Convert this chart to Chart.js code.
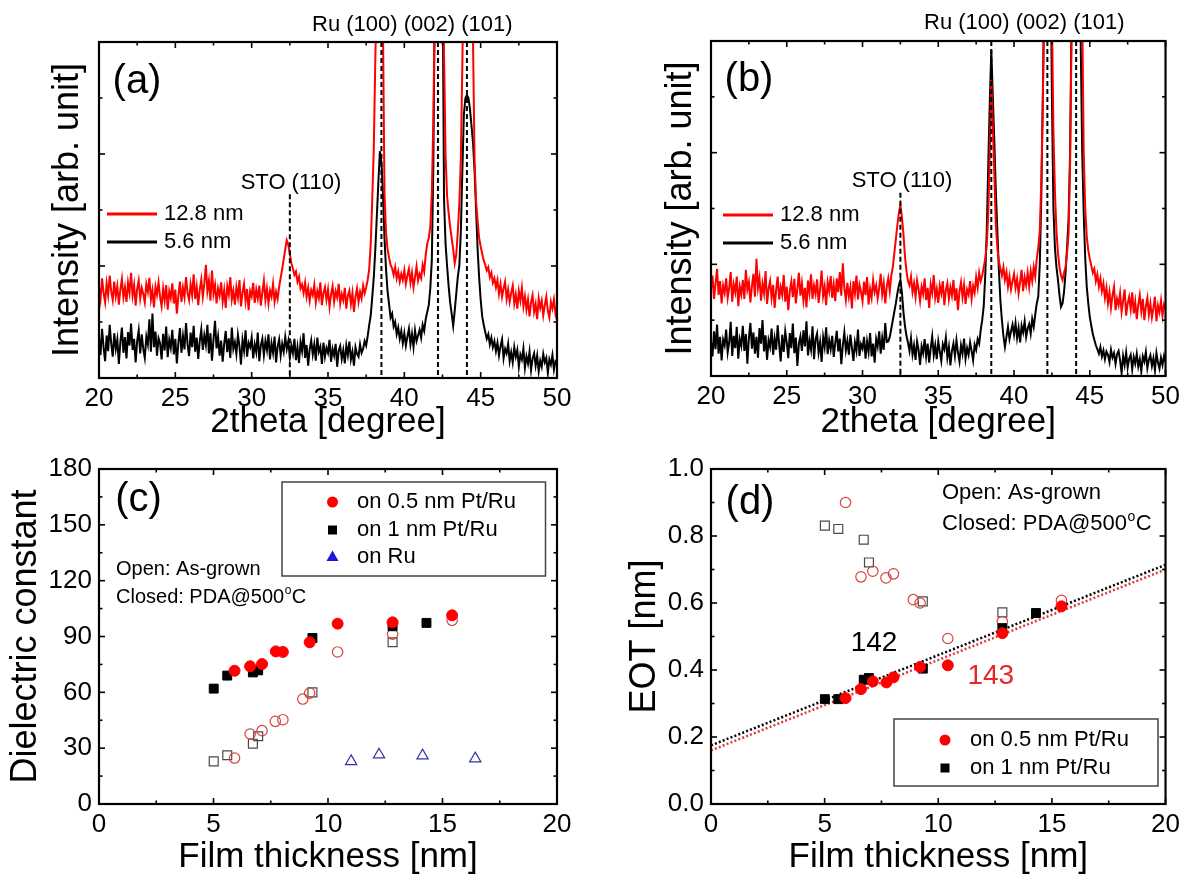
<!DOCTYPE html>
<html><head><meta charset="utf-8">
<script src="https://cdn.jsdelivr.net/npm/chart.js@4.4.1/dist/chart.umd.min.js"></script>
<style>
html,body{margin:0;padding:0;background:#fff;}
#wrap{position:relative;width:1185px;height:875px;overflow:hidden;background:#fff;}
canvas{position:absolute;}
</style></head><body>
<div id="wrap">
<canvas id="ca" width="592" height="440" style="left:0px;top:0px;width:592px;height:440px"></canvas>
<canvas id="cb" width="593" height="440" style="left:592px;top:0px;width:593px;height:440px"></canvas>
<canvas id="cc" width="592" height="435" style="left:0px;top:440px;width:592px;height:435px"></canvas>
<canvas id="cd" width="593" height="435" style="left:592px;top:440px;width:593px;height:435px"></canvas>
</div>
<script>
// ---------------- DATA ----------------
// XRD scans: intensity (arb. unit) on a 0.1 degree 2theta grid from 20 to 50
const angleStart = 20, angleStep = 0.1;
const xrdA_128 = [
1.62,1.41,1.78,1.52,1.35,1.69,1.48,1.83,1.55,1.39,
1.72,1.46,1.64,1.31,1.58,1.77,1.44,1.62,1.36,1.70,
1.52,1.88,1.47,1.66,1.29,1.59,1.74,1.42,1.61,1.50,
1.35,1.68,1.54,1.79,1.40,1.57,1.26,1.63,1.49,1.71,
1.45,1.28,1.60,1.38,1.66,1.22,1.55,1.43,1.69,1.33,
1.58,1.15,1.47,1.72,1.36,1.61,1.44,1.80,1.52,1.39,
1.67,1.48,1.85,1.41,1.63,1.30,1.58,1.76,1.45,1.69,
2.02,1.55,1.74,1.38,1.92,1.50,1.66,1.33,1.60,1.47,
1.71,1.36,1.57,1.25,1.64,1.49,1.80,1.40,1.56,1.31,
1.62,1.44,1.75,1.28,1.53,1.68,1.37,1.59,1.21,1.55,
1.46,1.70,1.34,1.58,1.42,1.65,1.29,1.53,1.74,1.39,
1.60,1.33,1.56,1.45,1.68,1.36,1.54,1.41,1.63,1.79,
1.95,2.12,2.30,2.46,2.38,2.22,2.05,1.96,1.84,1.90,
1.72,1.81,1.60,1.67,1.52,1.70,1.45,1.61,1.38,1.57,
1.48,1.66,1.35,1.55,1.43,1.71,1.30,1.52,1.62,1.40,
1.58,1.27,1.49,1.64,1.36,1.55,1.44,1.68,1.33,1.50,
1.39,1.61,1.24,1.47,1.56,1.32,1.52,1.18,1.45,1.60,
1.36,1.54,1.42,1.65,1.51,1.62,1.75,1.95,2.40,3.20,
4.10,5.70,7.00,8.00,8.00,7.50,6.30,3.30,2.60,2.30,
2.15,2.02,1.96,1.84,1.98,1.78,1.90,1.72,1.86,1.75,
1.92,1.68,1.83,1.95,1.70,1.88,1.62,1.80,1.99,1.74,
1.86,1.78,2.02,1.90,2.20,2.40,2.50,2.70,3.30,4.60,
6.80,8.00,8.00,8.00,8.00,8.00,5.80,4.00,3.25,2.95,
2.70,2.50,2.30,2.05,2.20,2.60,3.10,3.90,5.60,7.50,
8.00,8.00,8.00,8.00,8.00,6.00,3.90,3.15,2.80,2.50,
2.35,2.22,2.10,2.02,1.92,1.98,1.80,1.88,1.70,1.78,
1.62,1.75,1.50,1.68,1.45,1.60,1.72,1.41,1.58,1.36,
1.52,1.65,1.33,1.49,1.24,1.55,1.38,1.61,1.28,1.46,
1.22,1.40,1.10,1.35,1.48,1.18,1.32,1.05,1.42,1.25,
1.38,1.12,1.30,1.45,1.20,1.08,1.36,1.24,1.40,1.15,
1.28];
const xrdA_56 = [
0.72,0.41,0.88,0.55,0.30,0.76,0.48,0.95,0.62,0.38,
0.80,0.52,0.69,0.25,0.64,0.90,0.45,0.73,0.35,0.82,
0.58,0.97,0.50,0.70,0.28,0.66,0.85,0.44,0.78,0.52,
0.36,0.74,0.60,1.05,0.47,1.15,0.55,0.83,0.40,0.71,
0.62,0.33,0.79,0.49,0.92,0.37,0.68,0.54,0.86,0.42,
0.70,0.26,0.63,0.89,0.45,0.75,0.51,0.98,0.60,0.39,
0.81,0.55,0.93,0.47,0.72,0.34,0.66,0.87,0.50,0.76,
0.59,0.95,0.44,0.80,0.31,0.69,1.02,0.53,0.74,0.40,
0.67,0.29,0.61,0.84,0.46,0.71,0.36,0.90,0.52,0.64,
0.43,0.77,0.57,0.24,0.68,0.49,0.85,0.38,0.63,0.55,
0.72,0.35,0.60,0.46,0.81,0.30,0.58,0.70,0.41,0.66,
0.50,0.78,0.33,0.62,0.45,0.74,0.28,0.56,0.69,0.40,
0.61,0.47,0.73,0.52,0.66,0.37,0.58,0.44,0.70,0.32,
0.55,0.27,0.64,0.48,0.80,0.36,0.59,0.22,0.51,0.67,
0.42,0.60,0.31,0.72,0.47,0.56,0.25,0.63,0.38,0.54,
0.45,0.68,0.29,0.52,0.40,0.61,0.20,0.49,0.57,0.34,
0.50,0.26,0.58,0.41,0.65,0.33,0.47,0.22,0.55,0.43,
0.38,0.60,0.45,0.52,0.66,0.58,0.75,0.95,1.12,1.45,
1.80,2.30,2.90,3.50,4.05,3.85,3.30,2.50,1.95,1.55,
1.32,1.08,1.15,0.92,1.00,0.78,0.90,0.70,0.84,0.62,
0.80,0.58,0.74,0.88,0.60,0.79,0.55,0.85,0.66,0.76,
0.86,0.72,0.95,0.84,1.05,1.18,1.30,1.60,2.10,3.80,
7.00,8.00,8.00,8.00,8.00,7.50,3.20,2.40,2.00,1.65,
1.35,1.15,0.93,1.20,1.50,1.80,2.00,2.60,3.70,4.70,
5.00,5.05,5.00,4.80,4.50,4.20,3.70,3.00,2.30,1.80,
1.40,1.10,0.95,0.82,0.70,0.78,0.60,0.72,0.55,0.66,
0.48,0.63,0.40,0.57,0.69,0.35,0.52,0.44,0.61,0.30,
0.46,0.28,0.55,0.38,0.50,0.20,0.42,0.33,0.53,0.18,
0.39,0.26,0.47,0.14,0.35,0.44,0.22,0.40,0.12,0.31,
0.20,0.43,0.28,0.36,0.09,0.33,0.24,0.41,0.15,0.30,
0.27];
const xrdB_128 = [
1.55,1.80,1.38,1.66,1.92,1.45,1.70,1.30,1.62,1.49,
1.75,1.40,1.58,1.86,1.33,1.64,1.50,1.78,1.25,1.60,
1.46,1.72,1.38,1.90,1.55,1.68,1.32,1.61,1.83,1.42,
2.10,1.58,1.76,1.35,1.65,1.48,1.88,1.29,1.57,1.70,
1.40,1.63,1.22,1.54,1.78,1.37,1.59,1.45,1.81,1.33,
1.60,1.18,1.52,1.69,1.41,1.74,1.30,1.56,1.85,1.44,
1.66,1.35,1.58,1.23,1.71,1.49,1.82,1.38,1.62,1.47,
1.73,1.31,1.55,1.89,1.43,1.60,1.27,1.68,1.52,1.79,
1.40,1.64,1.34,1.75,1.50,1.86,1.44,2.02,1.58,1.36,
1.67,1.42,1.59,1.21,1.70,1.48,1.80,1.37,1.63,1.51,
1.34,1.69,1.45,1.77,1.28,1.56,1.40,1.72,1.50,1.62,
1.39,1.58,1.83,1.46,1.66,1.30,1.60,1.75,1.52,1.80,
1.95,2.20,2.45,2.70,2.92,3.06,2.85,2.55,2.15,1.88,
1.70,1.62,1.78,1.50,1.66,1.42,1.71,1.55,1.34,1.60,
1.47,1.75,1.36,1.58,1.22,1.64,1.49,1.81,1.40,1.56,
1.31,1.62,1.48,1.70,1.27,1.54,1.66,1.38,1.59,1.44,
1.72,1.35,1.57,1.18,1.52,1.68,1.41,1.63,1.29,1.55,
1.46,1.70,1.38,1.61,1.49,1.77,1.58,1.85,1.70,1.80,
1.95,2.10,2.35,2.90,4.00,5.30,4.50,3.60,2.70,2.30,
2.05,1.92,1.80,1.95,1.72,1.86,1.60,1.78,1.55,1.70,
1.83,1.58,1.74,1.48,1.69,1.90,1.52,1.77,1.63,1.85,
1.60,1.88,1.70,1.95,1.78,2.10,2.30,2.60,3.50,4.90,
6.80,8.00,8.00,8.00,8.00,6.50,4.40,3.30,2.60,2.20,
1.95,1.80,1.72,1.85,1.95,2.20,2.55,3.80,6.20,8.00,
8.00,8.00,8.00,8.00,8.00,6.50,4.00,3.00,2.50,2.25,
2.10,1.98,1.85,1.92,1.70,1.82,1.60,1.75,1.52,1.66,
1.40,1.58,1.30,1.50,1.22,1.45,1.60,1.18,1.38,1.27,
1.48,1.15,1.35,1.55,1.08,1.30,1.42,1.20,1.50,1.12,
1.33,1.02,1.28,1.45,1.16,1.38,1.00,1.25,1.40,1.10,
1.30,1.05,1.22,1.42,0.98,1.26,1.14,1.35,1.08,1.28,
1.20];
const xrdB_56 = [
0.62,0.35,0.80,0.48,0.92,0.40,0.70,0.28,0.65,0.55,
0.83,0.42,0.60,0.97,0.36,0.72,0.50,0.88,0.31,0.66,
0.54,0.90,0.45,0.75,0.22,0.68,0.95,0.49,0.78,0.40,
0.70,0.33,0.86,0.58,1.00,0.44,0.73,0.29,0.64,0.52,
0.85,0.38,0.67,0.47,0.91,0.56,0.26,0.74,0.43,0.80,
0.60,0.32,0.77,0.50,0.94,0.41,0.69,0.18,0.58,0.71,
0.45,0.82,0.53,0.98,0.37,0.63,0.47,0.89,0.30,0.66,
0.76,0.42,0.61,0.25,0.70,0.52,0.87,0.39,0.64,0.48,
0.72,0.34,0.59,0.81,0.44,0.67,0.21,0.55,0.78,0.46,
0.63,0.38,0.74,0.51,0.27,0.60,0.45,0.83,0.36,0.57,
0.49,0.70,0.31,0.62,0.43,0.77,0.35,0.58,0.24,0.66,
0.53,0.80,0.40,0.68,0.47,0.95,0.61,0.62,0.70,0.85,
1.00,1.15,1.30,1.48,1.62,1.72,1.50,1.15,0.90,0.72,
0.60,0.45,0.68,0.38,0.55,0.29,0.62,0.47,0.20,0.53,
0.41,0.66,0.35,0.58,0.24,0.50,0.71,0.37,0.55,0.30,
0.62,0.44,0.27,0.57,0.48,0.69,0.33,0.52,0.19,0.45,
0.58,0.36,0.64,0.42,0.26,0.55,0.40,0.67,0.31,0.50,
0.38,0.60,0.45,0.28,0.56,0.47,0.66,0.58,0.82,1.00,
1.25,1.80,2.60,3.80,4.90,5.84,5.00,4.20,3.30,2.60,
1.90,1.35,1.00,0.72,0.52,0.70,0.88,0.66,0.80,0.92,
0.74,0.95,0.68,0.86,0.60,0.90,0.78,0.98,0.70,0.85,
0.93,0.76,1.02,0.88,1.10,1.30,1.42,2.00,3.20,5.00,
7.00,8.00,8.00,8.00,8.00,5.00,3.00,2.30,1.95,1.72,
1.45,1.24,1.30,1.50,1.85,2.30,2.80,4.00,6.50,8.00,
8.00,8.00,8.00,8.00,6.00,4.00,2.90,2.10,1.60,1.30,
1.06,0.90,0.75,0.65,0.55,0.48,0.40,0.52,0.35,0.46,
0.30,0.44,0.38,0.25,0.47,0.33,0.41,0.22,0.39,0.45,
0.28,0.05,0.36,0.20,0.42,0.15,0.31,0.38,0.12,0.34,
0.22,0.40,0.17,0.30,0.08,0.35,0.26,0.43,0.14,0.29,
0.37,0.18,0.32,0.10,0.41,0.24,0.13,0.33,0.20,0.36,
0.25];
const xrdLegend = ['12.8 nm', '5.6 nm'];
const stoPeak = 32.5, stoLineTop = 3.28;
const ruPeaks = [38.5, 42.2, 44.1];

// (c) dielectric constant vs film thickness
const thk05Closed = [5.92, 6.6, 7.12, 7.72, 8.03, 9.2, 10.42, 12.82, 15.42];
const k05Closed   = [71.6, 74.0, 75.2, 82.0, 81.7, 86.9, 96.9, 97.6, 101.4];
const thk1Closed  = [5.01, 5.6, 6.72, 6.95, 9.32, 12.82, 14.3];
const k1Closed    = [62.0, 69.0, 70.7, 71.8, 89.2, 95.5, 97.3];
const thk05Open   = [5.92, 6.6, 7.12, 7.7, 8.03, 8.9, 9.2, 10.42, 12.82, 15.42];
const k05Open     = [24.7, 37.6, 39.4, 44.4, 45.3, 56.4, 59.6, 81.7, 91.3, 98.7];
const thk1Open    = [5.01, 5.6, 6.72, 6.95, 9.32, 12.82];
const k1Open      = [22.9, 26.2, 32.4, 36.4, 60.0, 86.9];
const thkRu       = [11.01, 12.23, 14.13, 16.43];
const kRu         = [22.9, 26.5, 26.0, 24.4];

// (d) EOT vs film thickness
const eot05Closed = [0.316, 0.343, 0.366, 0.363, 0.378, 0.409, 0.414, 0.510, 0.590];
const eot1Closed  = [0.313, 0.313, 0.371, 0.376, 0.404, 0.525, 0.570];
const eot05Open   = [0.900, 0.678, 0.695, 0.675, 0.687, 0.610, 0.600, 0.494, 0.545, 0.608];
const eot1Open    = [0.831, 0.821, 0.789, 0.721, 0.605, 0.572];
const fitThk      = [0, 20];
const fit1nm      = [0.175, 0.714];
const fit05nm     = [0.160, 0.700];
const fitLabels   = ['142', '143'];

const kTickLabels   = ['0', '30', '60', '90', '120', '150', '180'];
const eotTickLabels = ['0.0', '0.2', '0.4', '0.6', '0.8', '1.0'];
const thkTickLabels = ['0', '5', '10', '15', '20'];
const angTickLabels = ['20', '25', '30', '35', '40', '45', '50'];
const seriesNames   = ['on 0.5 nm Pt/Ru', 'on 1 nm Pt/Ru', 'on Ru'];

// ---------------- HELPERS ----------------
const FONT = '"Liberation Sans", Arial, Helvetica, sans-serif';
Chart.defaults.font.family = FONT;
Chart.defaults.color = '#000';
const RED = '#ff0000', OPENRED = '#d8423c', OPENGRAY = '#4a4a4a', BLUE = '#3333a8';

function xrdPoints(arr) { return arr.map((v, i) => ({ x: +(angleStart + i * angleStep).toFixed(1), y: v })); }
function pairs(xs, ys) { return xs.map((x, i) => ({ x: x, y: ys[i] })); }

function drawFrame(chart) {
  const { ctx, chartArea: a } = chart;
  const xs = chart.scales.x, ys = chart.scales.y;
  const seg = (x1, y1, x2, y2) => { ctx.beginPath(); ctx.moveTo(x1, y1); ctx.lineTo(x2, y2); ctx.stroke(); };
  const vals = s => s.ticks.map(t => t.value);
  const mids = v => { const m = []; for (let i = 0; i < v.length - 1; i++) m.push((v[i] + v[i + 1]) / 2); return m; };
  ctx.save();
  ctx.strokeStyle = '#000';
  ctx.lineWidth = 1.6;
  const xv = vals(xs), yv = vals(ys);
  xv.forEach(v => { const p = xs.getPixelForValue(v); seg(p, a.bottom, p, a.bottom - 6); seg(p, a.top, p, a.top + 6); });
  mids(xv).forEach(v => { const p = xs.getPixelForValue(v); seg(p, a.bottom, p, a.bottom - 3.5); seg(p, a.top, p, a.top + 3.5); });
  yv.forEach(v => { const p = ys.getPixelForValue(v); seg(a.left, p, a.left + 6, p); seg(a.right, p, a.right - 6, p); });
  mids(yv).forEach(v => { const p = ys.getPixelForValue(v); seg(a.left, p, a.left + 3.5, p); seg(a.right, p, a.right - 3.5, p); });
  ctx.lineWidth = 2.2;
  ctx.strokeRect(a.left, a.top, a.right - a.left, a.bottom - a.top);
  ctx.restore();
}
function text(ctx, s, x, y, size, color, align) {
  ctx.font = size + 'px ' + FONT;
  ctx.fillStyle = color || '#000';
  ctx.textAlign = align || 'left';
  ctx.textBaseline = 'middle';
  ctx.fillText(s, x, y);
}
function closedText(ctx, x, y, size) {
  text(ctx, 'Closed: PDA@500', x, y, size);
  const w = ctx.measureText('Closed: PDA@500').width;
  text(ctx, 'o', x + w + 0.5, y - size * 0.33, Math.round(size * 0.62));
  const w2 = ctx.measureText('o').width;
  text(ctx, 'C', x + w + w2 + 1, y, size);
}
function marker(ctx, kind, x, y) {
  ctx.save();
  if (kind === 'circle') { ctx.fillStyle = RED; ctx.beginPath(); ctx.arc(x, y, 5.5, 0, Math.PI * 2); ctx.fill(); }
  else if (kind === 'square') { ctx.fillStyle = '#000'; ctx.fillRect(x - 4.5, y - 4.5, 9, 9); }
  else { ctx.fillStyle = '#1818d8'; ctx.beginPath(); ctx.moveTo(x, y - 6.5); ctx.lineTo(x + 6, y + 4); ctx.lineTo(x - 6, y + 4); ctx.closePath(); ctx.fill(); }
  ctx.restore();
}

function axisX(min, max, step, labels, titleText, h, tpad) {
  return {
    type: 'linear', min: min, max: max,
    ticks: { stepSize: step, autoSkip: false, maxRotation: 0, padding: 5, font: { size: 26 }, color: '#000',
             callback: (v, i) => labels[i] },
    grid: { display: false, drawTicks: false }, border: { display: false },
    title: { display: true, text: titleText, color: '#000', font: { size: 35, lineHeight: 1 }, padding: { top: 0, bottom: tpad } },
    afterFit: s => { s.height = h; }
  };
}
function axisY(min, max, step, labels, titleText, w, tpad) {
  return {
    type: 'linear', min: min, max: max,
    ticks: { stepSize: step, display: !!labels, padding: 7, font: { size: 26 }, color: '#000',
             callback: (v, i) => labels ? labels[i] : '' },
    grid: { display: false, drawTicks: false }, border: { display: false },
    title: { display: true, text: titleText, color: '#000', font: { size: 36, lineHeight: 1 }, padding: { top: tpad, bottom: 0 } },
    afterFit: s => { s.width = w; }
  };
}
const baseOpts = { responsive: false, animation: false, devicePixelRatio: 1,
  plugins: { legend: { display: false }, tooltip: { enabled: false } } };

// ---------------- XRD PANELS ----------------
function xrdChart(id, red, black, geo) {
  new Chart(document.getElementById(id), {
    type: 'line',
    data: { datasets: [
      { data: xrdPoints(red), borderColor: RED, borderWidth: 2, pointRadius: 0, tension: 0, clip: 0 },
      { data: xrdPoints(black), borderColor: '#000', borderWidth: 2, pointRadius: 0, tension: 0, clip: 0 }
    ] },
    options: Object.assign({}, baseOpts, {
      parsing: false,
      layout: { padding: { left: 0, top: geo.top, right: geo.right, bottom: 0 } },
      scales: {
        x: axisX(20, 50, 5, angTickLabels, '2theta [degree]', geo.xh, 0.5),
        y: axisY(0, 6, 2, null, 'Intensity [arb. unit]', geo.yw, geo.ytp)
      }
    }),
    plugins: [{
      id: 'decor',
      afterDatasetsDraw(chart) {
        const { ctx, chartArea: a } = chart;
        const xs = chart.scales.x, ys = chart.scales.y;
        ctx.save();
        ctx.strokeStyle = '#000'; ctx.lineWidth = 2; ctx.setLineDash([5, 3]);
        let p = xs.getPixelForValue(stoPeak);
        ctx.beginPath(); ctx.moveTo(p, ys.getPixelForValue(stoLineTop)); ctx.lineTo(p, a.bottom); ctx.stroke();
        ruPeaks.forEach(v => { const q = xs.getPixelForValue(v); ctx.beginPath(); ctx.moveTo(q, a.top); ctx.lineTo(q, a.bottom); ctx.stroke(); });
        ctx.setLineDash([]);
        drawFrame(chart);
        // legend
        ctx.lineWidth = 3;
        ctx.strokeStyle = RED; ctx.beginPath(); ctx.moveTo(geo.legX, geo.legY); ctx.lineTo(geo.legX + 50, geo.legY); ctx.stroke();
        ctx.strokeStyle = '#000'; ctx.beginPath(); ctx.moveTo(geo.legX, geo.legY + 28); ctx.lineTo(geo.legX + 50, geo.legY + 28); ctx.stroke();
        text(ctx, xrdLegend[0], geo.legX + 57, geo.legY, 22);
        text(ctx, xrdLegend[1], geo.legX + 57, geo.legY + 28, 22);
        text(ctx, geo.tag, geo.tagX, geo.tagY, 40, '#000', 'center');
        text(ctx, 'Ru (100) (002) (101)', geo.ruX, geo.ruY, 22);
        text(ctx, 'STO (110)', geo.stoX, geo.stoY, 22, '#000', 'center');
        ctx.restore();
      }
    }]
  });
}
xrdChart('ca', xrdA_128, xrdA_56, { top: 42, right: 35, xh: 62, yw: 99, ytp: 50,
  legX: 107, legY: 214, tag: '(a)', tagX: 137, tagY: 82, ruX: 312, ruY: 25, stoX: 291, stoY: 183 });
xrdChart('cb', xrdB_128, xrdB_56, { top: 41, right: 17, xh: 64, yw: 119, ytp: 71,
  legX: 131, legY: 215, tag: '(b)', tagX: 157, tagY: 80, ruX: 332, ruY: 23, stoX: 310, stoY: 181 });

// ---------------- (c) ----------------
const openPt = (color, style, r) => ({ pointStyle: style, pointRadius: r, backgroundColor: 'rgba(0,0,0,0)', borderColor: color, pointBorderWidth: 1.2, borderWidth: 1.2 });
const fillPt = (color, style, r) => ({ pointStyle: style, pointRadius: r, backgroundColor: color, borderColor: color, pointBorderWidth: 1, borderWidth: 1 });

new Chart(document.getElementById('cc'), {
  type: 'scatter',
  data: { datasets: [
    Object.assign({ data: pairs(thk05Closed, k05Closed) }, fillPt(RED, 'circle', 5.5)),
    Object.assign({ data: pairs(thk1Closed, k1Closed) }, fillPt('#000', 'rect', 6.3)),
    Object.assign({ data: pairs(thk05Open, k05Open) }, openPt(OPENRED, 'circle', 5.2)),
    Object.assign({ data: pairs(thk1Open, k1Open) }, openPt(OPENGRAY, 'rect', 6.3)),
    Object.assign({ data: pairs(thkRu, kRu) }, openPt(BLUE, 'triangle', 6.5))
  ] },
  options: Object.assign({}, baseOpts, {
    layout: { padding: { left: 0, top: 29, right: 35, bottom: 0 } },
    scales: {
      x: axisX(0, 20, 5, thkTickLabels, 'Film thickness [nm]', 71, 0),
      y: axisY(0, 180, 30, kTickLabels, 'Dielectric constant', 99, 8)
    }
  }),
  plugins: [{
    id: 'decorC',
    afterDatasetsDraw(chart) {
      const ctx = chart.ctx;
      drawFrame(chart);
      ctx.save();
      text(ctx, '(c)', 138.5, 60, 40, '#000', 'center');
      text(ctx, 'Open: As-grown', 116, 129, 20);
      closedText(ctx, 116, 157, 20);
      ctx.strokeStyle = '#444'; ctx.lineWidth = 1.5;
      ctx.strokeRect(282, 42, 263.5, 94);
      const rows = [62, 90, 117], kinds = ['circle', 'square', 'triangle'];
      rows.forEach((y, i) => { marker(ctx, kinds[i], 332.5, y); text(ctx, seriesNames[i], 357, y, 22); });
      ctx.restore();
    }
  }]
});

// ---------------- (d) ----------------
new Chart(document.getElementById('cd'), {
  type: 'scatter',
  data: { datasets: [
    Object.assign({ data: pairs(thk05Closed, eot05Closed) }, fillPt(RED, 'circle', 5.5)),
    Object.assign({ data: pairs(thk1Closed, eot1Closed) }, fillPt('#000', 'rect', 6.3)),
    Object.assign({ data: pairs(thk05Open, eot05Open) }, openPt(OPENRED, 'circle', 5.2)),
    Object.assign({ data: pairs(thk1Open, eot1Open) }, openPt(OPENGRAY, 'rect', 6.3)),
    { type: 'line', data: pairs(fitThk, fit1nm), borderColor: '#000', borderWidth: 2.5, borderDash: [2, 2.2], pointRadius: 0, showLine: true, clip: 0 },
    { type: 'line', data: pairs(fitThk, fit05nm), borderColor: '#e23a3a', borderWidth: 2.5, borderDash: [2, 2.2], pointRadius: 0, showLine: true, clip: 0 }
  ] },
  options: Object.assign({}, baseOpts, {
    layout: { padding: { left: 0, top: 29, right: 17, bottom: 0 } },
    scales: {
      x: axisX(0, 20, 5, thkTickLabels, 'Film thickness [nm]', 71, 0),
      y: axisY(0, 1, 0.2, eotTickLabels, 'EOT [nm]', 119, 35)
    }
  }),
  plugins: [{
    id: 'decorD',
    afterDatasetsDraw(chart) {
      const ctx = chart.ctx;
      drawFrame(chart);
      ctx.save();
      text(ctx, '(d)', 158, 63, 40, '#000', 'center');
      text(ctx, 'Open: As-grown', 350, 53, 22);
      closedText(ctx, 350, 84, 22);
      text(ctx, fitLabels[0], 282, 203, 28, '#000', 'center');
      text(ctx, fitLabels[1], 398.8, 236, 28, '#e8262b', 'center');
      ctx.strokeStyle = '#444'; ctx.lineWidth = 1.5;
      ctx.strokeRect(302, 279, 264, 67);
      marker(ctx, 'circle', 353, 300); text(ctx, seriesNames[0], 378, 300, 22);
      marker(ctx, 'square', 353, 328); text(ctx, seriesNames[1], 378, 328, 22);
      ctx.restore();
    }
  }]
});
</script>
</body></html>
